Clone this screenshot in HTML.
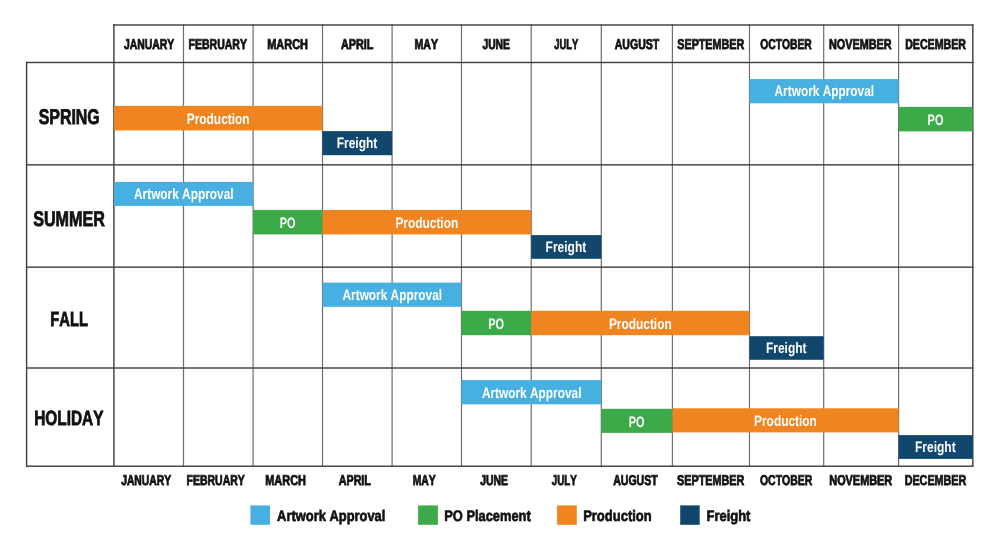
<!DOCTYPE html>
<html><head><meta charset="utf-8"><title>Seasonal Production Timeline</title>
<style>
html,body{margin:0;padding:0;background:#fff;width:1000px;height:545px;overflow:hidden}
svg{display:block;will-change:transform}
text{font-family:"Liberation Sans",sans-serif;font-weight:700;font-kerning:none;letter-spacing:0}
</style></head><body>
<svg width="1000" height="545" viewBox="0 0 1000 545" text-rendering="geometricPrecision">
<rect width="1000" height="545" fill="#fff"/>
<rect x="113.20" y="24.30" width="1.4" height="442.60" fill="#3c3c3c"/>
<rect x="182.90" y="24.30" width="1.2" height="442.60" fill="#6e6e6e"/>
<rect x="252.50" y="24.30" width="1.2" height="442.60" fill="#6e6e6e"/>
<rect x="321.90" y="24.30" width="1.2" height="442.60" fill="#6e6e6e"/>
<rect x="391.50" y="24.30" width="1.2" height="442.60" fill="#6e6e6e"/>
<rect x="460.90" y="24.30" width="1.2" height="442.60" fill="#6e6e6e"/>
<rect x="530.60" y="24.30" width="1.2" height="442.60" fill="#6e6e6e"/>
<rect x="600.70" y="24.30" width="1.2" height="442.60" fill="#6e6e6e"/>
<rect x="671.80" y="24.30" width="1.2" height="442.60" fill="#6e6e6e"/>
<rect x="748.90" y="24.30" width="1.2" height="442.60" fill="#6e6e6e"/>
<rect x="823.10" y="24.30" width="1.2" height="442.60" fill="#6e6e6e"/>
<rect x="898.00" y="24.30" width="1.2" height="442.60" fill="#6e6e6e"/>
<rect x="972.10" y="24.30" width="1.4" height="442.60" fill="#3c3c3c"/>
<rect x="25.90" y="61.80" width="1.4" height="405.10" fill="#3c3c3c"/>
<rect x="113.30" y="24.30" width="860.10" height="1.4" fill="#3c3c3c"/>
<rect x="26.00" y="61.80" width="947.40" height="1.4" fill="#3c3c3c"/>
<rect x="26.00" y="164.15" width="947.40" height="1.4" fill="#3c3c3c"/>
<rect x="26.00" y="266.45" width="947.40" height="1.4" fill="#3c3c3c"/>
<rect x="26.00" y="367.30" width="947.40" height="1.4" fill="#3c3c3c"/>
<rect x="26.00" y="465.50" width="947.40" height="1.4" fill="#3c3c3c"/>
<rect x="749.50" y="79.10" width="149.10" height="24.20" fill="#48b0e0"/>
<rect x="113.90" y="105.90" width="208.60" height="24.50" fill="#ef8420"/>
<rect x="898.60" y="106.90" width="74.20" height="24.50" fill="#3daa4a"/>
<rect x="322.50" y="131.10" width="69.60" height="24.10" fill="#12476d"/>
<rect x="113.90" y="181.90" width="139.20" height="24.00" fill="#48b0e0"/>
<rect x="253.10" y="209.90" width="69.40" height="24.50" fill="#3daa4a"/>
<rect x="322.50" y="210.00" width="208.70" height="24.40" fill="#ef8420"/>
<rect x="531.20" y="235.10" width="70.10" height="23.70" fill="#12476d"/>
<rect x="322.50" y="282.60" width="139.00" height="24.20" fill="#48b0e0"/>
<rect x="461.50" y="310.80" width="69.70" height="24.40" fill="#3daa4a"/>
<rect x="531.20" y="310.80" width="218.30" height="24.40" fill="#ef8420"/>
<rect x="749.50" y="336.20" width="74.20" height="23.60" fill="#12476d"/>
<rect x="461.50" y="380.10" width="139.80" height="24.20" fill="#48b0e0"/>
<rect x="601.30" y="408.80" width="71.10" height="24.10" fill="#3daa4a"/>
<rect x="672.40" y="408.30" width="226.20" height="24.10" fill="#ef8420"/>
<rect x="898.60" y="435.10" width="74.20" height="23.80" fill="#12476d"/>
<text x="774.55" y="95.98" font-size="15.12" textLength="99.54" lengthAdjust="spacingAndGlyphs" fill="#fff" stroke="#fff" stroke-width="0.0">Artwork Approval</text>
<text x="186.75" y="123.98" font-size="15.12" textLength="62.83" lengthAdjust="spacingAndGlyphs" fill="#fff" stroke="#fff" stroke-width="0.0">Production</text>
<text x="927.61" y="124.98" font-size="15.12" textLength="15.90" lengthAdjust="spacingAndGlyphs" fill="#fff" stroke="#fff" stroke-width="0.0">PO</text>
<text x="336.65" y="147.98" font-size="15.12" textLength="40.65" lengthAdjust="spacingAndGlyphs" fill="#fff" stroke="#fff" stroke-width="0.0">Freight</text>
<text x="134.00" y="198.98" font-size="15.12" textLength="99.54" lengthAdjust="spacingAndGlyphs" fill="#fff" stroke="#fff" stroke-width="0.0">Artwork Approval</text>
<text x="279.71" y="227.98" font-size="15.12" textLength="15.90" lengthAdjust="spacingAndGlyphs" fill="#fff" stroke="#fff" stroke-width="0.0">PO</text>
<text x="395.40" y="227.98" font-size="15.12" textLength="62.83" lengthAdjust="spacingAndGlyphs" fill="#fff" stroke="#fff" stroke-width="0.0">Production</text>
<text x="545.60" y="251.98" font-size="15.12" textLength="40.65" lengthAdjust="spacingAndGlyphs" fill="#fff" stroke="#fff" stroke-width="0.0">Freight</text>
<text x="342.50" y="299.98" font-size="15.12" textLength="99.54" lengthAdjust="spacingAndGlyphs" fill="#fff" stroke="#fff" stroke-width="0.0">Artwork Approval</text>
<text x="488.26" y="328.98" font-size="15.12" textLength="15.90" lengthAdjust="spacingAndGlyphs" fill="#fff" stroke="#fff" stroke-width="0.0">PO</text>
<text x="608.90" y="328.98" font-size="15.12" textLength="62.83" lengthAdjust="spacingAndGlyphs" fill="#fff" stroke="#fff" stroke-width="0.0">Production</text>
<text x="765.95" y="352.98" font-size="15.12" textLength="40.65" lengthAdjust="spacingAndGlyphs" fill="#fff" stroke="#fff" stroke-width="0.0">Freight</text>
<text x="481.90" y="397.98" font-size="15.12" textLength="99.54" lengthAdjust="spacingAndGlyphs" fill="#fff" stroke="#fff" stroke-width="0.0">Artwork Approval</text>
<text x="628.76" y="426.98" font-size="15.12" textLength="15.90" lengthAdjust="spacingAndGlyphs" fill="#fff" stroke="#fff" stroke-width="0.0">PO</text>
<text x="754.05" y="425.98" font-size="15.12" textLength="62.83" lengthAdjust="spacingAndGlyphs" fill="#fff" stroke="#fff" stroke-width="0.0">Production</text>
<text x="915.05" y="451.98" font-size="15.12" textLength="40.65" lengthAdjust="spacingAndGlyphs" fill="#fff" stroke="#fff" stroke-width="0.0">Freight</text>
<text x="123.94" y="49.10" font-size="14.24" textLength="50.33" lengthAdjust="spacingAndGlyphs" fill="#111" stroke="#111" stroke-width="0.8">JANUARY</text>
<text x="188.50" y="49.10" font-size="14.24" textLength="58.47" lengthAdjust="spacingAndGlyphs" fill="#111" stroke="#111" stroke-width="0.8">FEBRUARY</text>
<text x="267.27" y="49.10" font-size="14.24" textLength="40.67" lengthAdjust="spacingAndGlyphs" fill="#111" stroke="#111" stroke-width="0.8">MARCH</text>
<text x="341.03" y="49.10" font-size="14.24" textLength="32.40" lengthAdjust="spacingAndGlyphs" fill="#111" stroke="#111" stroke-width="0.8">APRIL</text>
<text x="414.60" y="49.10" font-size="14.24" textLength="23.37" lengthAdjust="spacingAndGlyphs" fill="#111" stroke="#111" stroke-width="0.8">MAY</text>
<text x="482.44" y="49.10" font-size="14.24" textLength="27.46" lengthAdjust="spacingAndGlyphs" fill="#111" stroke="#111" stroke-width="0.8">JUNE</text>
<text x="554.26" y="49.10" font-size="14.24" textLength="23.99" lengthAdjust="spacingAndGlyphs" fill="#111" stroke="#111" stroke-width="0.8">JULY</text>
<text x="614.74" y="49.10" font-size="14.24" textLength="44.48" lengthAdjust="spacingAndGlyphs" fill="#111" stroke="#111" stroke-width="0.8">AUGUST</text>
<text x="677.29" y="49.10" font-size="14.24" textLength="66.93" lengthAdjust="spacingAndGlyphs" fill="#111" stroke="#111" stroke-width="0.8">SEPTEMBER</text>
<text x="760.28" y="49.10" font-size="14.24" textLength="51.43" lengthAdjust="spacingAndGlyphs" fill="#111" stroke="#111" stroke-width="0.8">OCTOBER</text>
<text x="828.97" y="49.10" font-size="14.24" textLength="62.65" lengthAdjust="spacingAndGlyphs" fill="#111" stroke="#111" stroke-width="0.8">NOVEMBER</text>
<text x="905.19" y="49.10" font-size="14.24" textLength="60.73" lengthAdjust="spacingAndGlyphs" fill="#111" stroke="#111" stroke-width="0.8">DECEMBER</text>
<text x="121.14" y="485.30" font-size="14.24" textLength="50.02" lengthAdjust="spacingAndGlyphs" fill="#111" stroke="#111" stroke-width="0.8">JANUARY</text>
<text x="186.60" y="485.30" font-size="14.24" textLength="58.17" lengthAdjust="spacingAndGlyphs" fill="#111" stroke="#111" stroke-width="0.8">FEBRUARY</text>
<text x="265.27" y="485.30" font-size="14.24" textLength="40.67" lengthAdjust="spacingAndGlyphs" fill="#111" stroke="#111" stroke-width="0.8">MARCH</text>
<text x="338.73" y="485.30" font-size="14.24" textLength="32.20" lengthAdjust="spacingAndGlyphs" fill="#111" stroke="#111" stroke-width="0.8">APRIL</text>
<text x="412.71" y="485.30" font-size="14.24" textLength="23.06" lengthAdjust="spacingAndGlyphs" fill="#111" stroke="#111" stroke-width="0.8">MAY</text>
<text x="480.24" y="485.30" font-size="14.24" textLength="27.76" lengthAdjust="spacingAndGlyphs" fill="#111" stroke="#111" stroke-width="0.8">JUNE</text>
<text x="551.85" y="485.30" font-size="14.24" textLength="24.90" lengthAdjust="spacingAndGlyphs" fill="#111" stroke="#111" stroke-width="0.8">JULY</text>
<text x="613.14" y="485.30" font-size="14.24" textLength="44.58" lengthAdjust="spacingAndGlyphs" fill="#111" stroke="#111" stroke-width="0.8">AUGUST</text>
<text x="677.09" y="485.30" font-size="14.24" textLength="67.13" lengthAdjust="spacingAndGlyphs" fill="#111" stroke="#111" stroke-width="0.8">SEPTEMBER</text>
<text x="759.97" y="485.30" font-size="14.24" textLength="52.24" lengthAdjust="spacingAndGlyphs" fill="#111" stroke="#111" stroke-width="0.8">OCTOBER</text>
<text x="829.27" y="485.30" font-size="14.24" textLength="62.95" lengthAdjust="spacingAndGlyphs" fill="#111" stroke="#111" stroke-width="0.8">NOVEMBER</text>
<text x="904.68" y="485.30" font-size="14.24" textLength="61.54" lengthAdjust="spacingAndGlyphs" fill="#111" stroke="#111" stroke-width="0.8">DECEMBER</text>
<text x="38.64" y="123.70" font-size="21.37" textLength="61.15" lengthAdjust="spacingAndGlyphs" fill="#111" stroke="#111" stroke-width="0.8">SPRING</text>
<text x="33.14" y="225.90" font-size="21.22" textLength="71.70" lengthAdjust="spacingAndGlyphs" fill="#111" stroke="#111" stroke-width="0.8">SUMMER</text>
<text x="50.21" y="325.50" font-size="20.49" textLength="37.74" lengthAdjust="spacingAndGlyphs" fill="#111" stroke="#111" stroke-width="0.8">FALL</text>
<text x="34.27" y="425.40" font-size="20.64" textLength="69.18" lengthAdjust="spacingAndGlyphs" fill="#111" stroke="#111" stroke-width="0.8">HOLIDAY</text>
<text x="277.10" y="520.77" font-size="15.33" textLength="108.29" lengthAdjust="spacingAndGlyphs" fill="#111" stroke="#111" stroke-width="0.65">Artwork Approval</text>
<text x="444.26" y="520.77" font-size="15.33" textLength="86.47" lengthAdjust="spacingAndGlyphs" fill="#111" stroke="#111" stroke-width="0.65">PO Placement</text>
<text x="583.16" y="520.77" font-size="15.33" textLength="68.52" lengthAdjust="spacingAndGlyphs" fill="#111" stroke="#111" stroke-width="0.65">Production</text>
<text x="706.46" y="520.77" font-size="15.33" textLength="43.98" lengthAdjust="spacingAndGlyphs" fill="#111" stroke="#111" stroke-width="0.65">Freight</text>
<rect x="250.40" y="505.40" width="19.70" height="19.40" fill="#48b0e0"/>
<rect x="418.10" y="505.40" width="19.80" height="19.40" fill="#3daa4a"/>
<rect x="557.10" y="505.40" width="19.70" height="19.40" fill="#ef8420"/>
<rect x="680.20" y="505.40" width="19.50" height="19.40" fill="#12476d"/>
</svg>
</body></html>
